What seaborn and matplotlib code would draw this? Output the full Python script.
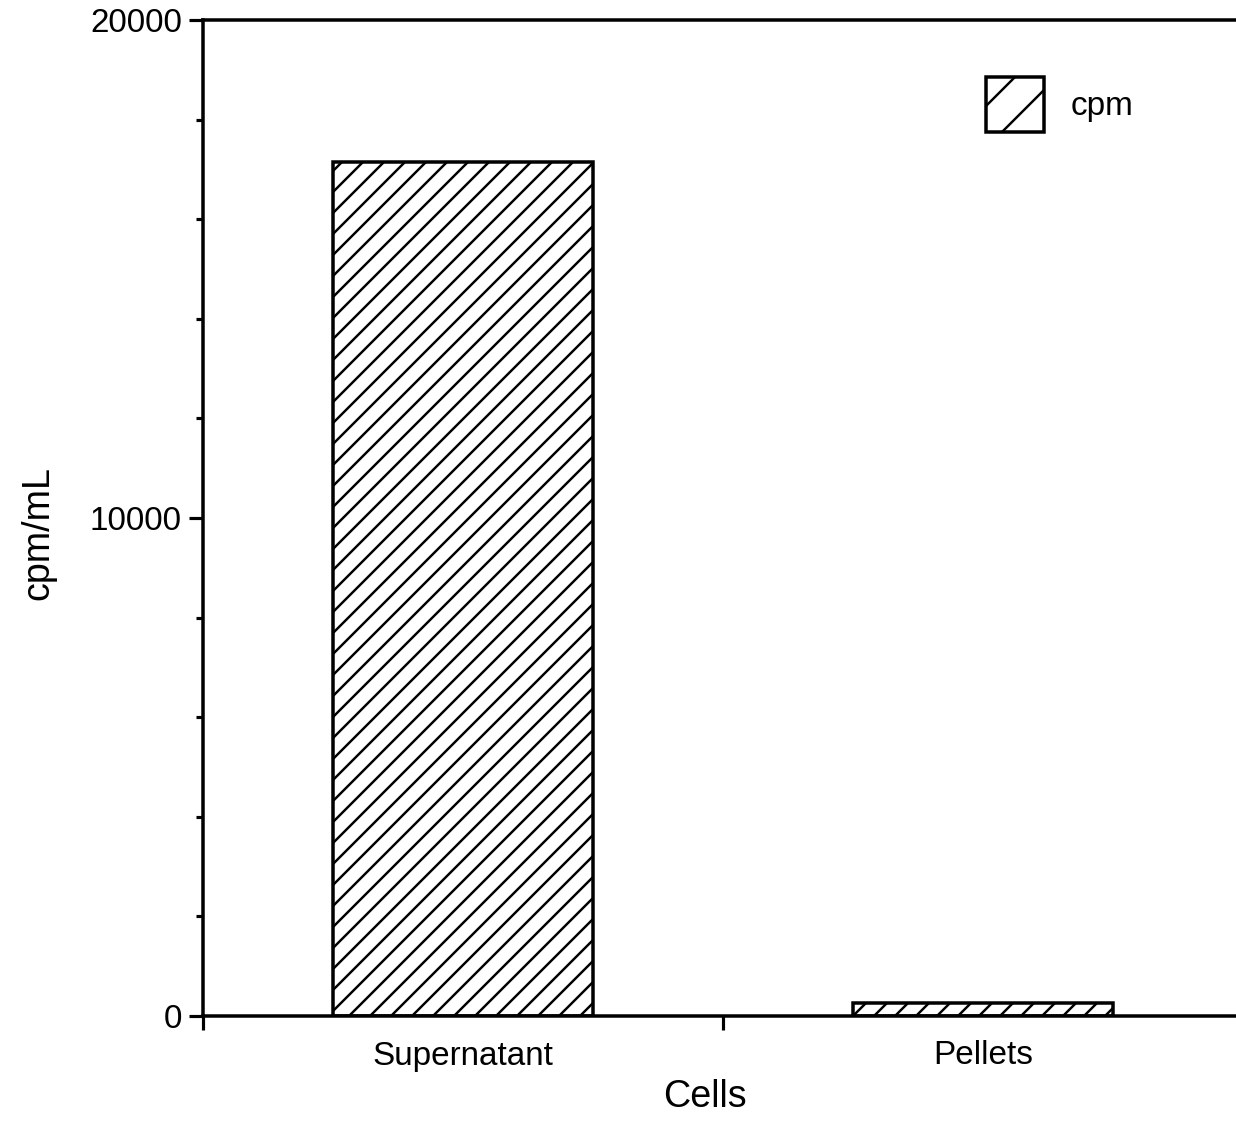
import matplotlib
matplotlib.use('Agg')
import matplotlib.pyplot as plt
import matplotlib.patches as mpatches
from matplotlib.ticker import MultipleLocator, FixedLocator
import seaborn as sns
import pandas as pd

cells = ['Supernatant', 'Pellets']
cpm = [17150, 270]

sns.set_style('ticks')
plt.rcParams['font.family'] = ['Liberation Sans', 'DejaVu Sans']
plt.rcParams['hatch.linewidth'] = 1.4
plt.rcParams['text.color'] = 'black'
plt.rcParams['xtick.color'] = 'black'
plt.rcParams['ytick.color'] = 'black'
plt.rcParams['axes.labelcolor'] = 'black'

df = pd.DataFrame({'Cells': cells, 'cpm/mL': cpm})

fig = plt.figure(figsize=(1236 / 126, 1126 / 126), dpi=126)
ax = fig.add_axes([203 / 1236, 110 / 1126, 1040 / 1236, 996 / 1126])

sns.barplot(data=df, x='Cells', y='cpm/mL', color='white', edgecolor='black',
            linewidth=2.0, width=0.5, hatch='//', saturation=1, ax=ax)

ax.set_xlim(-0.5, 1.5)
ax.set_ylim(0, 20000)

for s in ['left', 'bottom', 'top', 'right']:
    ax.spines[s].set_visible(True)
    ax.spines[s].set_linewidth(2.0)
    ax.spines[s].set_color('black')

ax.set_yticks([0, 10000, 20000])
ax.yaxis.set_minor_locator(MultipleLocator(2000))
ax.tick_params(axis='y', which='major', direction='out', length=8, width=1.8,
               labelsize=19, pad=4, right=False)
ax.tick_params(axis='y', which='minor', direction='out', length=4, width=1.8, right=False)
ax.set_xticks([0, 1])
ax.xaxis.set_minor_locator(FixedLocator([-0.5, 0.5, 1.5]))
ax.tick_params(axis='x', which='major', length=0, labelsize=19, pad=14)
ax.tick_params(axis='x', which='minor', length=8, width=1.8, direction='out', top=False)

ax.set_xlabel('Cells', fontsize=21.5)
ax.xaxis.set_label_coords(0.483, -0.063)
ax.set_ylabel('cpm/mL', fontsize=21.5)
ax.yaxis.set_label_coords(-0.141, 0.485)

handle = mpatches.Patch(facecolor='white', edgecolor='black', hatch='/',
                        linewidth=2.0, label='cpm')
ax.legend(handles=[handle], loc='upper left', bbox_to_anchor=(783 / 1040, 1 - 57 / 996),
          frameon=False, fontsize=19, handlelength=1.75, handleheight=2.17,
          handletextpad=0.8, borderaxespad=0, borderpad=0)

fig.savefig('out.png', dpi=126)
